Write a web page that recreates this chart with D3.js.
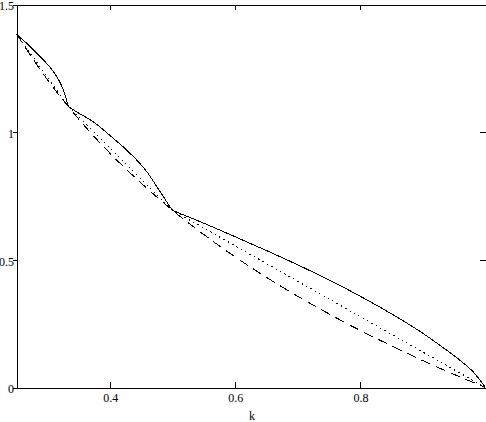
<!DOCTYPE html>
<html>
<head>
<meta charset="utf-8">
<script src="https://cdn.jsdelivr.net/npm/d3@7"></script>
<style>
  body { margin: 0; background: #fff; }
  svg { display: block; }
  text { font-family: "Liberation Serif", "Times New Roman", serif; font-size: 12px; fill: #000; }
</style>
</head>
<body>
<script>
(function() {

  const width = 486;
  const height = 422;

  // solid curve, three concave arcs between the joins
  const solidK = [
    [0.25, 0.262, 0.2724, 0.283, 0.2937, 0.302, 0.3097, 0.317, 0.3231, 0.328, 0.3311, 0.3333],
    [0.3333, 0.35, 0.3737, 0.39, 0.4057, 0.42, 0.4324, 0.446, 0.4591, 0.4751, 0.4857, 0.4937, 0.5],
    [0.5, 0.55, 0.6, 0.65, 0.7, 0.75, 0.8, 0.85, 0.9, 0.93, 0.96, 0.98, 1.0]
  ];
  const solidV = [
    [1.386, 1.358, 1.333, 1.308, 1.281, 1.259, 1.235, 1.207, 1.176, 1.144, 1.117, 1.099],
    [1.099, 1.074, 1.039, 1.007, 0.974, 0.944, 0.915, 0.881, 0.843, 0.784, 0.745, 0.714, 0.693],
    [0.693, 0.643, 0.590, 0.536, 0.480, 0.421, 0.357, 0.288, 0.212, 0.160, 0.105, 0.062, 0]
  ];

  // dotted curve (straight pieces between the joins)
  const dottedK = [0.25, 0.3333, 0.5, 1.0];
  const dottedV = [1.386, 1.099, 0.693, 0];

  // dashed curve
  const dashedK = [0.25, 0.28, 0.31, 0.3333, 0.37, 0.4, 0.45, 0.5, 0.55, 0.6, 0.65, 0.7, 0.75, 0.8, 0.85, 0.9, 0.95, 1.0];
  const dashedV = [1.386, 1.273, 1.171, 1.099, 0.994, 0.916, 0.799, 0.693, 0.598, 0.511, 0.431, 0.357, 0.288, 0.223, 0.163, 0.105, 0.051, 0];

  const xTicks = [0.4, 0.6, 0.8];
  const xTickLabels = ["0.4", "0.6", "0.8"];
  const yTicks = [0, 0.5, 1, 1.5];
  const yTickLabels = ["0", "0.5", "1", "1.5"];
  const xTitle = "k";

  let svg = d3.select("body").append("svg")
    .attr("width", width)
    .attr("height", height);

  svg.append("rect")
    .attr("width", width)
    .attr("height", height)
    .attr("fill", "#fff");

  let xScale = d3.scaleLinear()
    .domain([0.25, 1])
    .range([16.5, 485.5]);

  let yScale = d3.scaleLinear()
    .domain([0, 1.5])
    .range([387.5, 4.5]);

  // zip k and v arrays into points
  function pts(ks, vs) {
    return ks.map((k, i) => [k, vs[i]]);
  }

  let smooth = d3.line()
    .x(d => xScale(d[0]))
    .y(d => yScale(d[1]))
    .curve(d3.curveMonotoneX);

  let straight = d3.line()
    .x(d => xScale(d[0]))
    .y(d => yScale(d[1]));

  let plot = svg.append("g")
    .attr("fill", "none")
    .attr("stroke", "#000")
    .attr("stroke-width", 1)
    .style("shape-rendering", "crispEdges");

  plot.append("path")
    .attr("d", smooth(pts(dashedK, dashedV)))
    .attr("stroke-dasharray", "10,6");

  plot.append("path")
    .attr("d", straight(pts(dottedK, dottedV)))
    .attr("stroke-dasharray", "1.5,3.5");

  solidK.forEach((ks, i) => {
    plot.append("path")
      .attr("d", smooth(pts(ks, solidV[i])));
  });

  // axes: bottom + left carry the labels, top + right just ticks
  let bottom = svg.append("g")
    .attr("transform", "translate(0," + yScale(0) + ")")
    .call(d3.axisBottom(xScale).tickValues(xTicks).tickSizeInner(-6).tickSizeOuter(0).tickPadding(6)
      .tickFormat((d, i) => xTickLabels[i]));

  let top = svg.append("g")
    .attr("transform", "translate(0," + yScale(1.5) + ")")
    .call(d3.axisTop(xScale).tickValues(xTicks).tickSizeInner(-5).tickSizeOuter(0).tickFormat(""));

  let left = svg.append("g")
    .attr("transform", "translate(" + xScale(0.25) + ",0)")
    .call(d3.axisLeft(yScale).tickValues(yTicks).tickSizeInner(4).tickSizeOuter(0).tickPadding(-1.5)
      .tickFormat((d, i) => yTickLabels[i]));

  let right = svg.append("g")
    .attr("transform", "translate(" + xScale(1) + ",0)")
    .call(d3.axisRight(yScale).tickValues([0.5, 1]).tickSizeInner(-6).tickSizeOuter(0).tickFormat(""));

  [bottom, top, left, right].forEach(g => {
    g.selectAll("path, line").attr("stroke", "#000").style("shape-rendering", "crispEdges");
    g.selectAll("text")
      .attr("fill", "#000")
      .style("font-family", '"Liberation Serif", "Times New Roman", serif')
      .style("font-size", "12px");
  });

  left.selectAll("text").attr("dy", "0.45em");

  svg.append("text")
    .attr("x", 252)
    .attr("y", 420)
    .attr("text-anchor", "middle")
    .text(xTitle);

})();
</script>
</body>
</html>
